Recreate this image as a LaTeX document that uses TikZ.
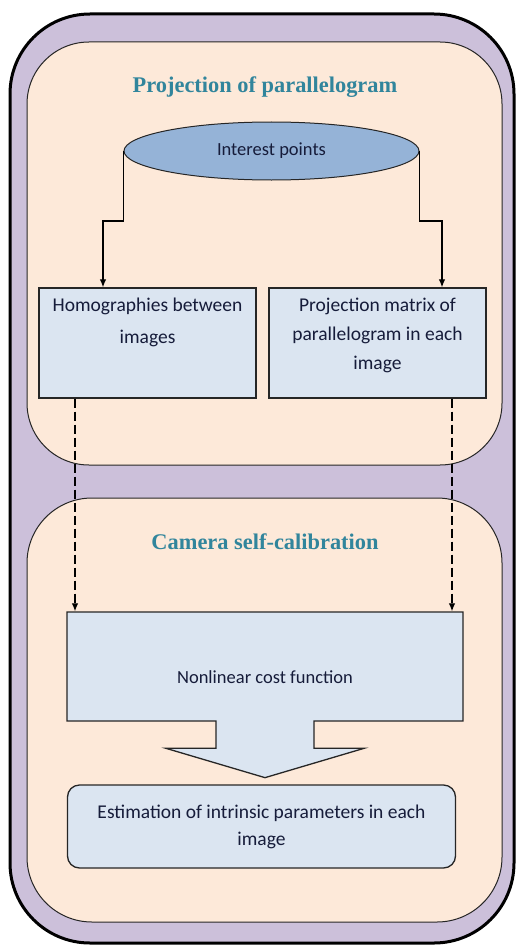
\documentclass[tikz,border=0pt]{standalone}
\usepackage{fontspec}
\setmainfont{Carlito}
\newfontfamily\titlefont{Liberation Serif}
\usetikzlibrary{shapes.geometric,shapes.arrows,arrows.meta}

\definecolor{frameviolet}{RGB}{204,192,218}
\definecolor{panelpeach}{RGB}{253,233,217}
\definecolor{pointblue}{RGB}{149,179,215}
\definecolor{boxblue}{RGB}{219,229,241}
\definecolor{titleteal}{RGB}{49,133,156}
\definecolor{textnavy}{RGB}{22,28,58}

% text at the top of a box
\newcommand{\boxtext}[1]{\parbox[c][90pt][t]{205pt}{\centering #1}}

\begin{document}
\begin{tikzpicture}[x=1pt,y=1pt,>={Latex[length=8pt,width=6.5pt]},
    frame/.style={draw,line width=3pt,fill=frameviolet,rounded corners=80pt,
        minimum width=504pt,minimum height=929pt},
    panel/.style={draw=black!85,line width=1pt,fill=panelpeach,rounded corners=62pt,
        minimum width=475pt},
    paneltitle/.style={text=titleteal,font=\titlefont\bfseries\fontsize{22.4}{26}\selectfont},
    stepbox/.style={draw=black!85,line width=1.3pt,fill=boxblue,text=textnavy,
        inner xsep=6pt,inner ysep=10pt,minimum width=217pt,minimum height=110pt,
        font=\fontsize{19.5}{29}\selectfont},
    costbox/.style={arrow box,draw=black!85,line width=1.3pt,fill=boxblue,text=textnavy,
        minimum width=396pt,minimum height=109pt,inner sep=0pt,
        arrow box arrows={north:0pt,east:0pt,west:0pt,south:56pt from border},
        arrow box shaft width=98pt,arrow box head extend=50pt,arrow box tip angle=147,
        font=\fontsize{18.5}{22}\selectfont},
    resultbox/.style={draw=black!85,line width=1.3pt,fill=boxblue,text=textnavy,
        rounded corners=12pt,minimum width=388pt,minimum height=83pt,align=center,
        font=\fontsize{19.5}{27}\selectfont},
    link/.style={->,line width=1.2pt},
    dashlink/.style={->,line width=1.2pt,dash pattern=on 9pt off 4pt}]
    \useasboundingbox (0,0) rectangle (516,-947);
    \path
    % Background frame and the two panels
    (262,-478.5)   node[frame] (frame) {}
    (264.5,-253.5) node[panel,minimum height=423pt] (projpanel) {}
    (264.5,-710)   node[panel,minimum height=424pt,rounded corners=65pt] (calibpanel) {}

    % Panel titles
    (265,-87)  node[paneltitle] (projtitle) {Projection of parallelogram}
    (265,-542) node[paneltitle] (calibtitle) {Camera self-calibration}

    % Interest points
    (271.5,-151) node[ellipse,draw=black!85,line width=1pt,fill=pointblue,text=textnavy,
        inner sep=0pt,minimum width=295pt,minimum height=58pt,
        font=\fontsize{18.5}{22}\selectfont] (interest) {Interest points}

    % Homographies and projection matrix
    (147.5,-343) node[stepbox] (homog) {\boxtext{Homographies between\\[3pt]images}}
    (377.5,-343) node[stepbox] (projmat) {\boxtext{Projection matrix of\\parallelogram in each\\image}}

    % Cost function and result
    (265,-666.5) node[costbox] (cost) {\raisebox{-16.5pt}[0pt][0pt]{Nonlinear cost function}}
    (261.5,-826.5) node[resultbox] (estim) {Estimation of intrinsic parameters in each\\image};

    % Links
    \draw[link] (interest.west) -- ++(0,-70) -| ([xshift=-44.5pt]homog.north);
    \draw[link] (interest.east) -- ++(0,-70) -| ([xshift=64.5pt]projmat.north);
    \draw[dashlink] ([xshift=-72.5pt]homog.south) -- ([xshift=-72.5pt]homog.south |- cost.north);
    \draw[dashlink] ([xshift=74.5pt]projmat.south) -- ([xshift=74.5pt]projmat.south |- cost.north);
\end{tikzpicture}
\end{document}
